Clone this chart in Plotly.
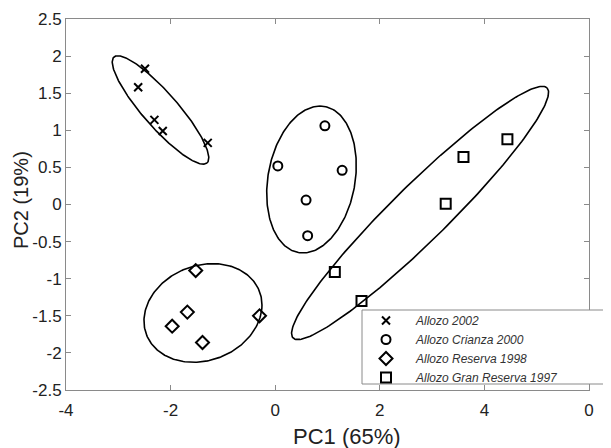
import numpy as np
import plotly.graph_objects as go

# ---- data ----
series_names = ["Allozo 2002", "Allozo Crianza 2000", "Allozo Reserva 1998", "Allozo Gran Reserva 1997"]

x_2002 = [-2.49, -2.62, -2.31, -2.15, -1.29]
y_2002 = [1.83, 1.58, 1.14, 0.99, 0.83]

x_crianza = [0.95, 0.05, 1.28, 0.59, 0.62]
y_crianza = [1.06, 0.52, 0.46, 0.06, -0.42]

x_reserva = [-1.52, -1.68, -1.97, -1.39, -0.30]
y_reserva = [-0.89, -1.45, -1.64, -1.86, -1.50]

x_gran = [3.60, 4.44, 3.26, 1.14, 1.65]
y_gran = [0.64, 0.88, 0.01, -0.91, -1.30]

# confidence ellipses: centre and two conjugate half-axis vectors (data units)
ell_cx = [-2.193, 0.694, -1.381, 2.77]
ell_cy = [1.274, 0.337, -1.462, -0.114]
ell_ux = [0.889, 0.163, 1.128, 2.428]
ell_uy = [-0.714, 0.99, 0.108, 1.685]
ell_vx = [-0.249, 0.841, 0.0, 0.377]
ell_vy = [-0.154, 0.0, 0.656, -0.270]

x_tickvals = [-4, -2, 0, 2, 4, 6]
x_ticktext = ["-4", "-2", "0", "2", "4", "0"]
y_tickvals = [2.5, 2, 1.5, 1, 0.5, 0, -0.5, -1, -1.5, -2, -2.5]
y_ticktext = ["2.5", "2", "1.5", "1", "0.5", "0", "-0.5", "-1", "-1.5", "-2", "-2.5"]

FONT = "Liberation Sans, Arial, sans-serif"
AXIS_GRAY = "#8a8a8a"

fig = go.Figure()

t = np.linspace(0, 2 * np.pi, 241)
for cx, cy, ux, uy, vx, vy in zip(ell_cx, ell_cy, ell_ux, ell_uy, ell_vx, ell_vy):
    fig.add_trace(go.Scatter(
        x=cx + ux * np.cos(t) + vx * np.sin(t),
        y=cy + uy * np.cos(t) + vy * np.sin(t),
        mode="lines", line=dict(color="black", width=1.6),
        showlegend=False, hoverinfo="skip"))

marker_specs = [
    (x_2002, y_2002, "x-thin-open", 8),
    (x_crianza, y_crianza, "circle-open", 9),
    (x_reserva, y_reserva, "diamond-open", 10),
    (x_gran, y_gran, "square-open", 10),
]
for name, (xs, ys, sym, sz) in zip(series_names, marker_specs):
    fig.add_trace(go.Scatter(
        x=xs, y=ys, mode="markers", name=name,
        marker=dict(symbol=sym, size=sz, color="black",
                    line=dict(color="black", width=2))))

# page has an 8px body margin: figure is placed at (8, 8) in the window
OFF = 8
W, H = 611 - OFF, 448 - OFF
PL, PR, PT, PB = 66, 589, 19, 390          # plot area in window pixels
L, R, T, B = PL - OFF, W - (PR - OFF), PT - OFF, H - (PB - OFF)
pw, ph = W - L - R, H - T - B

def px2paper_x(px):
    return (px - PL) / pw

def px2paper_y(py):
    return (PB - py) / ph

# legend frame (runs to the right edge as in the reference)
fig.add_shape(type="rect", xref="paper", yref="paper",
              x0=px2paper_x(362), x1=px2paper_x(640),
              y0=px2paper_y(384), y1=px2paper_y(310),
              line=dict(color=AXIS_GRAY, width=1), fillcolor="white", layer="above")

fig.update_layout(
    width=W, height=H,
    margin=dict(l=L, r=R, t=T, b=B, autoexpand=False),
    paper_bgcolor="white", plot_bgcolor="white",
    font=dict(family=FONT, color="#222222"),
    showlegend=True,
    legend=dict(x=px2paper_x(356), y=px2paper_y(306), xanchor="left", yanchor="top",
                bgcolor="rgba(0,0,0,0)", borderwidth=0,
                font=dict(family=FONT, size=12, style="italic", color="#333333"),
                itemwidth=50, tracegroupgap=0),
    annotations=[
        dict(text="PC1 (65%)", xref="paper", yref="paper",
             x=px2paper_x(347), y=px2paper_y(436), xanchor="center", yanchor="middle",
             showarrow=False, font=dict(family=FONT, size=22, color="#222222")),
        dict(text="PC2 (19%)", xref="paper", yref="paper", textangle=-90,
             x=px2paper_x(21), y=px2paper_y(200), xanchor="center", yanchor="middle",
             showarrow=False, font=dict(family=FONT, size=20, color="#222222")),
    ],
)

fig.update_xaxes(range=[-4, 6], tickvals=x_tickvals, ticktext=x_ticktext,
                 showgrid=False, zeroline=False, showline=True, linecolor=AXIS_GRAY,
                 linewidth=1, mirror="ticks", ticks="inside", ticklen=5,
                 ticklabelstandoff=5,
                 tickcolor=AXIS_GRAY, tickfont=dict(size=17, color="#222222"))
fig.update_yaxes(range=[-2.5, 2.5], tickvals=y_tickvals, ticktext=y_ticktext,
                 showgrid=False, zeroline=False, showline=True, linecolor=AXIS_GRAY,
                 linewidth=1, mirror="ticks", ticks="inside", ticklen=5,
                 tickcolor=AXIS_GRAY, tickfont=dict(size=17, color="#222222"))

fig.write_html("out.html")
